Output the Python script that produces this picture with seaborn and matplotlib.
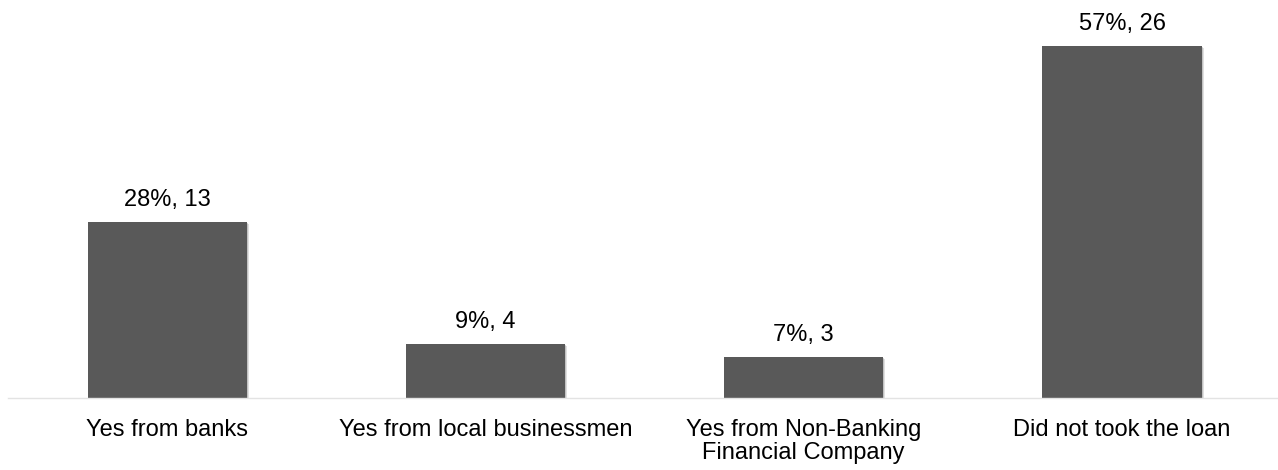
import matplotlib
matplotlib.use("Agg")
import matplotlib.pyplot as plt
import matplotlib.patheffects as pe
import seaborn as sns
import pandas as pd

categories = [
    "Yes from banks",
    "Yes from local businessmen",
    "Yes from Non-Banking\nFinancial Company",
    "Did not took the loan",
]
counts = [13, 4, 3, 26]
percents = [28, 9, 7, 57]

df = pd.DataFrame({"source": categories, "count": counts})

sns.set_theme(style="white")
plt.rcParams["font.family"] = ["Liberation Sans", "DejaVu Sans"]

fig = plt.figure(figsize=(12.78, 4.70), dpi=100)
ax = fig.add_axes([8 / 1278, 72 / 470, 1270 / 1278, 398 / 470])

sns.barplot(data=df, x="source", y="count", color="#595959", saturation=1,
            width=0.5, ax=ax)

# soft drop shadow under each bar
for bar in ax.patches:
    bar.set_edgecolor("none")
    bar.set_path_effects([
        pe.SimplePatchShadow(offset=(1.5, -1.5), shadow_rgbFace="#9a9a9a", alpha=0.3),
        pe.SimplePatchShadow(offset=(0.8, -0.8), shadow_rgbFace="#8a8a8a", alpha=0.35),
        pe.Normal(),
    ])

labels = [f"{p}%, {c}" for p, c in zip(percents, counts)]
ax.bar_label(ax.containers[0], labels=labels, padding=8, fontsize=17, color="#000000")

ax.set_xlim(-0.5, -0.5 + 1270 / 318.3)
ax.set_ylim(0, 29.4)
ax.set_xlabel("")
ax.set_ylabel("")
ax.set_yticks([])
ax.tick_params(axis="x", length=0, pad=15, labelsize=17, labelcolor="#000000")
for t in ax.get_xticklabels():
    t.set_linespacing(1.08)

for side in ["left", "right", "top"]:
    ax.spines[side].set_visible(False)
ax.spines["bottom"].set_color("#e3e3e3")
ax.spines["bottom"].set_linewidth(1.0)

fig.savefig("out.png", dpi=100, facecolor="white")
